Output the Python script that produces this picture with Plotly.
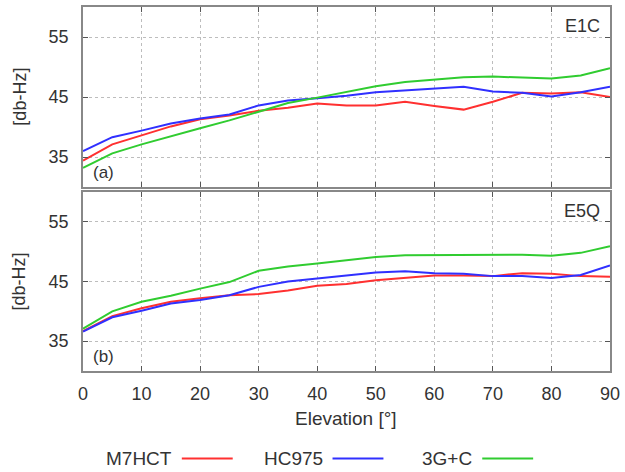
import plotly.graph_objects as go
from plotly.subplots import make_subplots

elev = [0, 5, 10, 15, 20, 25, 30, 35, 40, 45, 50, 55, 60, 65, 70, 75, 80, 85, 90]

# Panel (a) E1C
e1c_m7hct = [34.4, 37.1, 38.6, 40.1, 41.3, 41.9, 42.7, 43.2, 43.9, 43.6, 43.6, 44.2, 43.5, 42.9, 44.2, 45.7, 45.6, 45.8, 45.0]
e1c_hc975 = [36.0, 38.3, 39.4, 40.6, 41.4, 42.1, 43.6, 44.4, 44.8, 45.2, 45.8, 46.1, 46.4, 46.7, 45.9, 45.7, 45.1, 45.8, 46.7]
e1c_3gc = [33.2, 35.6, 37.1, 38.5, 39.8, 41.1, 42.5, 44.0, 44.9, 45.8, 46.8, 47.5, 47.9, 48.3, 48.4, 48.3, 48.1, 48.6, 49.8]

# Panel (b) E5Q
e5q_m7hct = [36.7, 39.2, 40.5, 41.6, 42.2, 42.7, 42.9, 43.5, 44.3, 44.6, 45.2, 45.6, 46.0, 46.0, 45.9, 46.4, 46.3, 45.9, 45.8]
e5q_hc975 = [36.6, 39.0, 40.1, 41.3, 41.9, 42.7, 44.1, 45.0, 45.5, 46.0, 46.5, 46.7, 46.4, 46.3, 45.9, 45.9, 45.6, 46.1, 47.7]
e5q_3gc = [37.1, 40.0, 41.6, 42.6, 43.8, 44.9, 46.8, 47.5, 48.0, 48.6, 49.1, 49.4, 49.4, 49.5, 49.5, 49.5, 49.3, 49.8, 50.9]

series_names = ["M7HCT", "HC975", "3G+C"]
colors = ["#ff3030", "#3030ff", "#30cc30"]
x_ticks = [0, 10, 20, 30, 40, 50, 60, 70, 80, 90]
y_ticks = [35, 45, 55]

FONT = "Liberation Sans, Arial, sans-serif"
TXT = "#333333"

W, H = 625, 472
ML, MR, MT, MB = 83, 14, 5, 101
plot_w = W - ML - MR
plot_h = H - MT - MB


def px_to_paper_x(px):
    return (px - ML) / plot_w


def py_to_paper_y(py):
    return (H - MB - py) / plot_h


fig = make_subplots(rows=2, cols=1, shared_xaxes=False, vertical_spacing=0.0)

for row, data in ((1, [e1c_m7hct, e1c_hc975, e1c_3gc]), (2, [e5q_m7hct, e5q_hc975, e5q_3gc])):
    for name, vals, col in zip(series_names, data, colors):
        fig.add_trace(go.Scatter(x=elev, y=vals, mode="lines", name=name,
                                 line=dict(color=col, width=2), showlegend=False),
                      row=row, col=1)

axis_common = dict(showline=True, mirror="allticks", linecolor="#888888", linewidth=1.5,
                   ticks="inside", ticklen=5, tickcolor="#555555",
                   showgrid=True, gridcolor="#bdbdbd", griddash="dot", gridwidth=1,
                   zeroline=False, tickfont=dict(family=FONT, size=18, color=TXT))

fig.update_xaxes(range=[0, 90], tickvals=x_ticks, ticklabelstandoff=6, **axis_common)
fig.update_yaxes(range=[30, 60], tickvals=y_ticks, ticklabelstandoff=9, **axis_common)

fig.update_layout(
    xaxis=dict(domain=[0, 1], showticklabels=False, anchor="y"),
    yaxis=dict(domain=[py_to_paper_y(186), 1.0], anchor="x"),
    xaxis2=dict(domain=[0, 1], anchor="y2", showticklabels=True),
    yaxis2=dict(domain=[0.0, py_to_paper_y(191)], anchor="x2"),
    width=W, height=H,
    margin=dict(l=ML, r=MR, t=MT, b=MB),
    paper_bgcolor="white", plot_bgcolor="white",
    showlegend=False,
)

# Axis titles as annotations
for py in (95, 281):
    fig.add_annotation(x=px_to_paper_x(19), y=py_to_paper_y(py), xref="paper", yref="paper",
                       text="[db-Hz]", textangle=-90, showarrow=False,
                       xanchor="center", yanchor="middle",
                       font=dict(family=FONT, size=18, color=TXT))
fig.add_annotation(x=px_to_paper_x(346), y=py_to_paper_y(419), xref="paper", yref="paper",
                   text="Elevation [°]", showarrow=False, xanchor="center", yanchor="middle",
                   font=dict(family=FONT, size=19, color=TXT))

# Panel labels
for ax, lab in (("", "E1C"), ("2", "E5Q")):
    fig.add_annotation(x=90, y=60, xref="x" + ax, yref="y" + ax, text=lab, showarrow=False,
                       xanchor="right", yanchor="top", xshift=-8, yshift=-7,
                       font=dict(family=FONT, size=18, color=TXT))
for ax, lab in (("", "(a)"), ("2", "(b)")):
    fig.add_annotation(x=0, y=30, xref="x" + ax, yref="y" + ax, text=lab, showarrow=False,
                       xanchor="left", yanchor="bottom", xshift=8, yshift=3,
                       font=dict(family=FONT, size=17, color=TXT))

# Custom legend (text followed by line sample)
legend_y = py_to_paper_y(459)
legend_items = [(104, 182, 233), (262, 333, 384), (421, 483, 534)]
for name, col, (tx, l0, l1) in zip(series_names, colors, legend_items):
    fig.add_annotation(x=px_to_paper_x(tx), y=legend_y, xref="paper", yref="paper",
                       text=name, showarrow=False, xanchor="left", yanchor="middle",
                       font=dict(family=FONT, size=19, color=TXT))
    fig.add_shape(type="line", xref="paper", yref="paper",
                  x0=px_to_paper_x(l0), x1=px_to_paper_x(l1), y0=legend_y, y1=legend_y,
                  line=dict(color=col, width=2))

fig.write_html("out.html")
